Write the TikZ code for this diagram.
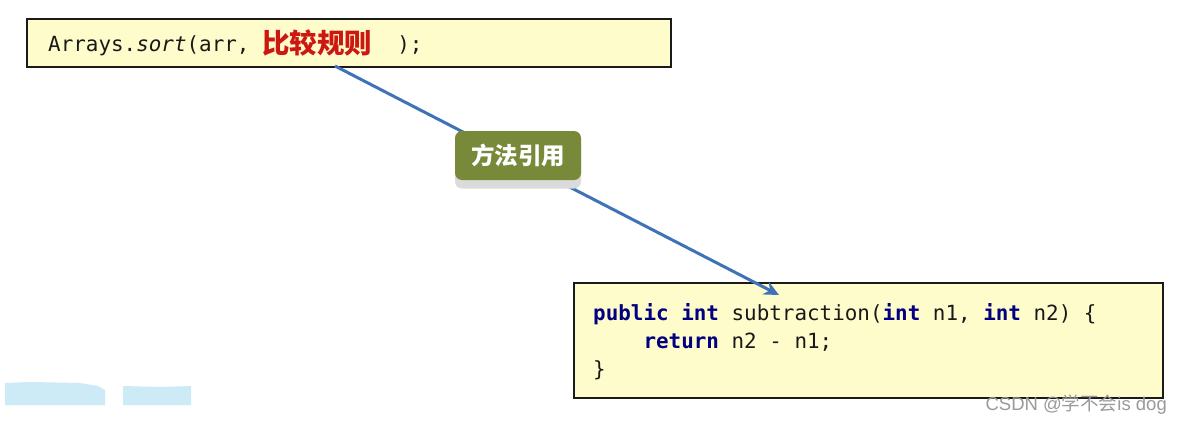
\documentclass[tikz,border=0pt]{standalone}
\usepackage{fontspec}
\setmainfont{Liberation Sans}
\newfontfamily\codefont{DejaVu Sans Mono}
\newfontfamily\cjk{Noto Sans CJK SC}
\usetikzlibrary{arrows.meta}
\definecolor{boxfill}{HTML}{FFFCCC}
\definecolor{boxline}{HTML}{1A1A1A}
\definecolor{kw}{HTML}{000080}
\definecolor{arrowblue}{HTML}{3F72B6}
\definecolor{badgegreen}{HTML}{788A3A}
\definecolor{redtext}{HTML}{CC1810}
\definecolor{wm}{HTML}{9A9A9A}
\definecolor{blob}{HTML}{CCEBF7}
\begin{document}
\begin{tikzpicture}[x=1pt,y=-1pt,
  codebox/.style={draw=boxline,line width=1.8pt,fill=boxfill,anchor=north west,inner sep=0pt},
  codetext/.style={anchor=base west,inner sep=0pt,font=\codefont\fontsize{20.9}{24}\selectfont,text=black!90},
  link/.style={draw=arrowblue,line width=3pt,-{Stealth[length=15pt,width=14pt]}},
  badge/.style={fill=badgegreen,rounded corners=7pt,minimum width=126pt,minimum height=49pt,inner sep=0pt,
    text=white,font=\cjk\bfseries\fontsize{23.5}{25}\selectfont},
  badgeshadow/.style={fill=black!14,rounded corners=7pt,minimum width=126pt,minimum height=49pt,inner sep=0pt}]
\useasboundingbox[fill=white] (0,0) rectangle (1182,423);
% stray light-blue blobs
\fill[blob] (5,383) -- (30,382) -- (80,383) -- (98,386) -- (105,390) -- (105,405) -- (5,405) -- cycle;
\fill[blob] (123,386) -- (160,387) -- (191,386) -- (191,405) -- (123,405) -- cycle;
% top box
\node[codebox,minimum width=644pt,minimum height=48pt] (call) at (26,18) {};
\node[codetext] (calltext) at (48,51) {Arrays.\textit{sort}(arr, \raisebox{-2.5pt}{\cjk\bfseries\fontsize{27.5}{28}\selectfont\color{redtext}比较规则}\ \ );};
% bottom box
\node[codebox,minimum width=589pt,minimum height=115pt] (method) at (573,282) {};
\node[codetext] (l1) at (593,320) {\textcolor{kw}{\bfseries public int} subtraction(\textcolor{kw}{\bfseries int} n1, \textcolor{kw}{\bfseries int} n2) \{};
\node[codetext] (l2) at (593,348) {\textcolor{kw}{\bfseries \ \ \ \ return} n2 - n1;};
\node[codetext] (l3) at (593,376) {\}};
% connector
\coordinate (src) at (335,66);
\coordinate (dst) at (779,295);
\draw[link] (src) -- (dst);
% badge
\node[badgeshadow] (shadow) at (518,164) {};
\node[badge] (ref) at (518,155.5) {方法引用};
% watermark
\node[anchor=base east,inner sep=0pt,text=wm,font=\fontsize{18.5}{20}\selectfont] (mark) at (1167,410) {CSDN @{\cjk 学不会}is dog};
\end{tikzpicture}
\end{document}
